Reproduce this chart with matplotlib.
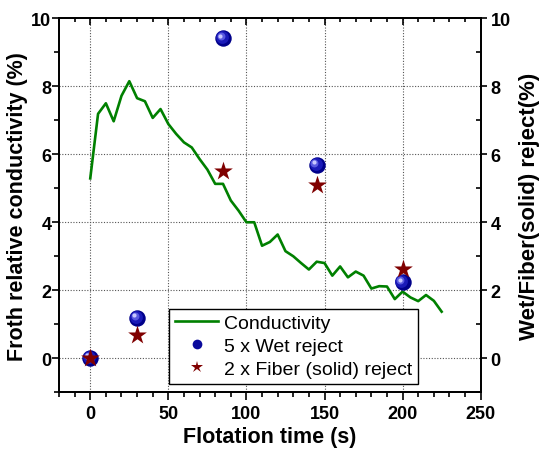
import matplotlib
matplotlib.use("Agg")
import matplotlib.pyplot as plt
import matplotlib.transforms as mtransforms
from matplotlib.ticker import MultipleLocator
from matplotlib.lines import Line2D

plt.rcParams['font.family'] = ['Liberation Sans', 'DejaVu Sans']

# ---- data ----
time_s = [0, 5, 10, 15, 20, 25, 30, 35, 40, 45, 50, 55, 60, 65, 70, 75, 80, 85,
          90, 95, 100, 105, 110, 115, 120, 125, 130, 135, 140, 145, 150, 155,
          160, 165, 170, 175, 180, 185, 190, 195, 200, 205, 210, 215, 220, 225]
conductivity = [5.29, 7.19, 7.50, 6.97, 7.72, 8.15, 7.65, 7.56, 7.07, 7.33, 6.89,
                6.60, 6.35, 6.20, 5.86, 5.55, 5.13, 5.13, 4.64, 4.34, 4.00, 4.00,
                3.31, 3.42, 3.64, 3.15, 3.00, 2.80, 2.61, 2.84, 2.80, 2.43, 2.70,
                2.38, 2.55, 2.43, 2.05, 2.12, 2.11, 1.74, 1.96, 1.79, 1.68, 1.86,
                1.69, 1.37]
reject_time = [0, 30, 85, 145, 200]
wet_reject = [0.0, 1.18, 9.41, 5.69, 2.23]
fiber_reject = [0.0, 0.69, 5.50, 5.11, 2.63]

green = '#008000'
navy = '#0a0a9c'
darkred = '#800000'

fig = plt.figure(figsize=(5.39, 4.52), dpi=100)
ax = fig.add_axes([0.1095, 0.130, 0.7823, 0.8273])

ax.set_xlim(-20, 250)
ax.set_ylim(-1, 10)

# grid
for xv in [0, 50, 100, 150, 200]:
    ax.axvline(xv, color='#555555', lw=0.8, ls=(0, (1, 1.5)), zorder=0)
for yv in [0, 2, 4, 6, 8]:
    ax.axhline(yv, color='#555555', lw=0.8, ls=(0, (1, 1.5)), zorder=0)

ax.plot(time_s, conductivity, color=green, lw=1.9, zorder=2)

# shaded spheres
ax.scatter(reject_time, wet_reject, s=140, color='#00008a', zorder=3, linewidths=0)
tr1 = mtransforms.offset_copy(ax.transData, fig=fig, x=-0.8, y=0.8, units='points')
ax.scatter(reject_time, wet_reject, s=85, color='#1a1ab8', zorder=3, linewidths=0, transform=tr1)
tr2 = mtransforms.offset_copy(ax.transData, fig=fig, x=-1.6, y=1.6, units='points')
ax.scatter(reject_time, wet_reject, s=32, color='#5a5ae0', zorder=3, linewidths=0, transform=tr2)
tr3 = mtransforms.offset_copy(ax.transData, fig=fig, x=-2.0, y=2.0, units='points')
ax.scatter(reject_time, wet_reject, s=9, color='#c8c8ff', zorder=3, linewidths=0, transform=tr3)

ax.scatter(reject_time, fiber_reject, s=200, marker='*', color=darkred, zorder=4, linewidths=0)

# ticks
ax.xaxis.set_major_locator(MultipleLocator(50))
ax.xaxis.set_minor_locator(MultipleLocator(10))
ax.yaxis.set_major_locator(MultipleLocator(2))
ax.yaxis.set_minor_locator(MultipleLocator(1))
ax.tick_params(axis='x', which='major', direction='out', length=6, width=1.2,
               labelsize=13, top=True, pad=3)
ax.tick_params(axis='y', which='major', direction='out', length=5, width=1.2,
               labelsize=13, right=False, pad=0.5)
ax.tick_params(axis='both', which='minor', direction='out', length=3.5, width=1.2,
               top=True, right=False)
for lbl in ax.get_xticklabels() + ax.get_yticklabels():
    lbl.set_fontweight('bold')
# top ticks inward
for t in ax.xaxis.get_major_ticks():
    t.tick2line.set_marker(3)  # TICKDOWN
    t.tick2line.set_markersize(5)
for t in ax.xaxis.get_minor_ticks():
    t.tick2line.set_marker(3)
    t.tick2line.set_markersize(3)

for sp in ax.spines.values():
    sp.set_linewidth(1.3)

ax.set_xlabel('Flotation time (s)', fontsize=15.5, fontweight='bold', labelpad=3)
ax.set_ylabel('Froth relative conductivity (%)', fontsize=15.5, fontweight='bold', labelpad=2)

ax2 = ax.twinx()
ax2.set_ylim(-1, 10)
ax2.yaxis.set_major_locator(MultipleLocator(2))
ax2.yaxis.set_minor_locator(MultipleLocator(1))
ax2.tick_params(axis='y', which='major', direction='out', length=4, width=1.2,
                labelsize=13, pad=3)
ax2.tick_params(axis='y', which='minor', direction='in', length=3.5, width=1.2)
for lbl in ax2.get_yticklabels():
    lbl.set_fontweight('bold')
for sp in ax2.spines.values():
    sp.set_linewidth(1.3)
ax2.set_ylabel('Wet/Fiber(solid) reject(%)', fontsize=16, fontweight='bold', labelpad=6)

handles = [Line2D([], [], color=green, lw=1.9),
           Line2D([], [], ls='none', marker='o', markersize=7, color=navy, markeredgewidth=0),
           Line2D([], [], ls='none', marker='*', markersize=9, color=darkred, markeredgewidth=0)]
labels = ['Conductivity', '5 x Wet reject', '2 x Fiber (solid) reject']
leg = ax.legend(handles, labels, loc='lower left', bbox_to_anchor=(0.2615, 0.022),
                fontsize=14, frameon=True, fancybox=False, edgecolor='black',
                framealpha=1, handlelength=2.2, handletextpad=0.3, borderpad=0.3,
                labelspacing=0.28, borderaxespad=0)
leg.get_frame().set_linewidth(1.0)
leg.set_zorder(5)

fig.savefig('out.png', dpi=100)
